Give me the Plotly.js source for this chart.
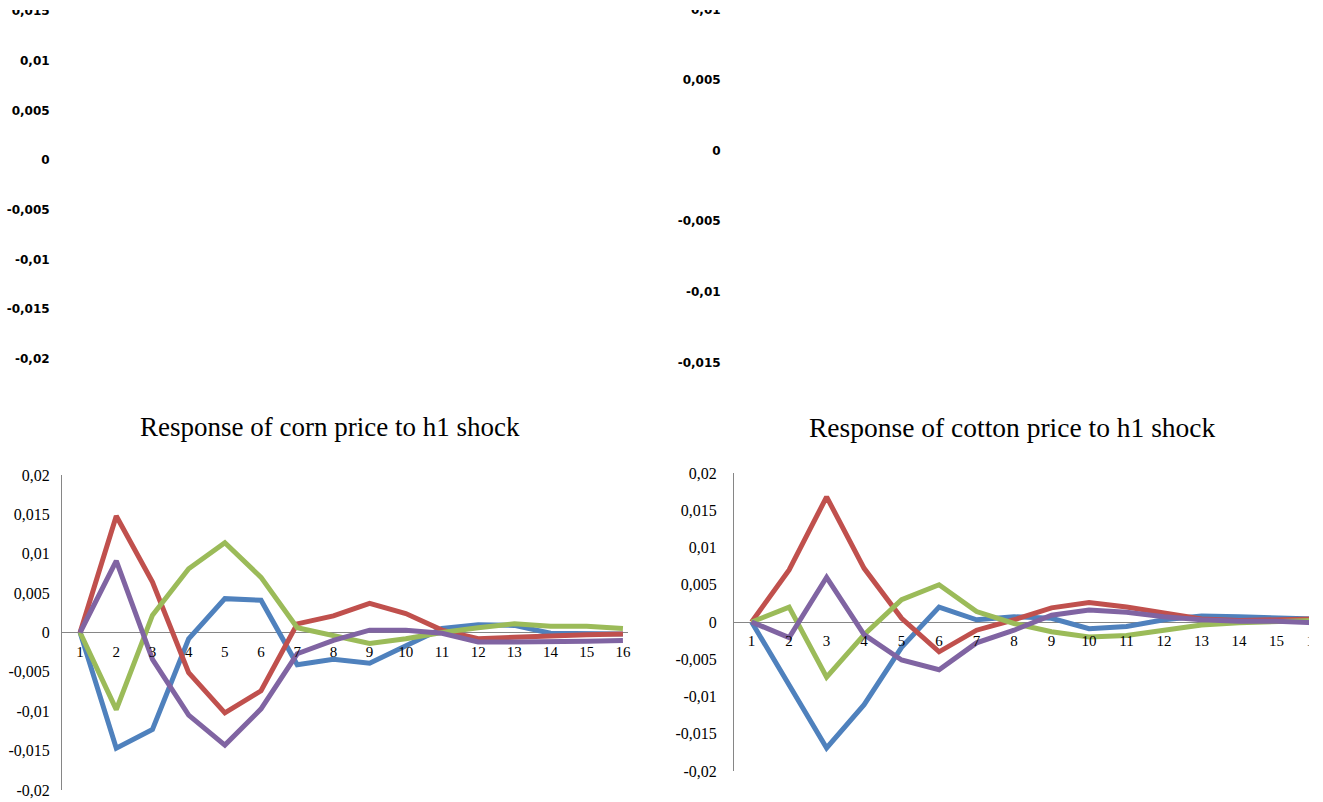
<!DOCTYPE html>
<html><head><meta charset="utf-8">
<script src="https://cdn.plot.ly/plotly-3.0.1.min.js"></script>
<style>body{margin:0;background:#fff}#chart{width:1323px;height:802px}</style>
</head><body><div id="chart"></div>
<script>
// Periods (categories)
const periods = [1,2,3,4,5,6,7,8,9,10,11,12,13,14,15,16];
const periodLabels = periods.map(String);

// Response of corn price to h1 shock
const cornBlue   = [0,-0.0147,-0.0123,-0.0008,0.0043,0.0041,-0.0041,-0.0034,-0.0039,-0.0017,0.0005,0.0010,0.0009,-0.0001,-0.0001,-0.0002];
const cornRed    = [0,0.0148,0.0064,-0.0051,-0.0102,-0.0074,0.0011,0.0021,0.0037,0.0024,0.0003,-0.0008,-0.0006,-0.0004,-0.0003,-0.0002];
const cornGreen  = [0,-0.0098,0.0022,0.0081,0.0114,0.0070,0.0006,-0.0004,-0.0014,-0.0008,0,0.0006,0.0011,0.0008,0.0008,0.0005];
const cornPurple = [0,0.0091,-0.0034,-0.0105,-0.0143,-0.0097,-0.0027,-0.0010,0.0003,0.0003,-0.0001,-0.0012,-0.0012,-0.0012,-0.0011,-0.0010];

// Response of cotton price to h1 shock
const cottonBlue   = [0,-0.0085,-0.0169,-0.0111,-0.0034,0.0020,0.0003,0.0007,0.0005,-0.0009,-0.0006,0.0003,0.0008,0.0007,0.0005,0.0004];
const cottonRed    = [0,0.0070,0.0168,0.0072,0.0005,-0.0040,-0.0011,0.0003,0.0019,0.0026,0.0020,0.0012,0.0004,0.0002,0.0003,0.0004];
const cottonGreen  = [0,0.0020,-0.0074,-0.0017,0.0030,0.0050,0.0014,-0.0002,-0.0013,-0.0020,-0.0018,-0.0011,-0.0004,-0.0001,0.0001,0.0002];
const cottonPurple = [0,-0.0021,0.0060,-0.0017,-0.0051,-0.0064,-0.0028,-0.0011,0.0009,0.0016,0.0013,0.0007,0.0003,0.0001,0.0001,-0.0001];

// Tick labels
const yTickVals = [0.02,0.015,0.01,0.005,0,-0.005,-0.01,-0.015,-0.02];
const yTickText = ['0,02','0,015','0,01','0,005','0','-0,005','-0,01','-0,015','-0,02'];
const topLeftTickVals = [0.015,0.01,0.005,0,-0.005,-0.01,-0.015,-0.02];
const topLeftTickText = ['0,015','0,01','0,005','0','-0,005','-0,01','-0,015','-0,02'];
const topRightTickVals = [0.01,0.005,0,-0.005,-0.01,-0.015];
const topRightTickText = ['0,01','0,005','0','-0,005','-0,01','-0,015'];

const titles = ['Response of corn price to h1 shock','Response of cotton price to h1 shock'];

const colors = ['#4F81BD','#C0504D','#9BBB59','#8064A2'];
const FONT = 'Liberation Serif, Times New Roman, serif';
const TOPFONT = 'DejaVu Sans, sans-serif';

function line(y, c, xa, ya){
  return {x: periods, y: y, type:'scatter', mode:'lines', xaxis:xa, yaxis:ya,
          line:{color:c, width:5}, hoverinfo:'skip', showlegend:false};
}

const data = [
  line(cornBlue, colors[0], 'x', 'y'),
  line(cornRed, colors[1], 'x', 'y'),
  line(cornGreen, colors[2], 'x', 'y'),
  line(cornPurple, colors[3], 'x', 'y'),
  line(cottonBlue, colors[0], 'x2', 'y2'),
  line(cottonRed, colors[1], 'x2', 'y2'),
  line(cottonGreen, colors[2], 'x2', 'y2'),
  line(cottonPurple, colors[3], 'x2', 'y2'),
  {x:[], y:[], xaxis:'x3', yaxis:'y3', type:'scatter', showlegend:false},
  {x:[], y:[], xaxis:'x4', yaxis:'y4', type:'scatter', showlegend:false}
];

const W = 1323, H = 802;
const px = v => v / W;
const py = v => 1 - v / H;

// top-left axis: 0 at y=160, 0.005 per 49.7 px; top-right: 0 at 150.5, 0.005 per 70.6 px
const tlZero = 160, tlStep = 49.7, tlTop = 0, tlBot = 362;
const trZero = 150.5, trStep = 70.6, trTop = 0, trBot = 372;

const xCommon = {
  tickmode:'array', tickvals: periods, ticktext: periodLabels,
  showgrid:false, zeroline:false, showline:false,
  ticks:'outside', ticklen:5, tickcolor:'rgba(0,0,0,0)',
  tickfont:{family:FONT, size:15, color:'#000'}, fixedrange:true
};
const yCommon = {
  tickmode:'array', tickvals: yTickVals, ticktext: yTickText,
  showgrid:false, zeroline:true, zerolinecolor:'#868686', zerolinewidth:1,
  showline:true, linecolor:'#868686', linewidth:1,
  ticks:'outside', tickcolor:'rgba(0,0,0,0)',
  tickfont:{family:FONT, size:16, color:'#000'}, range:[-0.02,0.02], fixedrange:true
};
const topY = {
  tickmode:'array', showgrid:false, zeroline:false, showline:false,
  ticks:'outside', ticklen:7, tickcolor:'rgba(0,0,0,0)',
  tickfont:{family:TOPFONT, size:12, color:'#000', weight:'bold'}, fixedrange:true
};

const layout = {
  width: W, height: H, autosize:false,
  margin:{l:0,r:0,t:0,b:0,pad:0},
  paper_bgcolor:'#fff', plot_bgcolor:'rgba(0,0,0,0)',
  showlegend:false,
  xaxis: Object.assign({}, xCommon, {domain:[px(62), px(628)], range:[0.5,16.14], anchor:'free', position: py(632.5)}),
  yaxis: Object.assign({}, yCommon, {domain:[py(790), py(475)], anchor:'x', ticklen:8}),
  xaxis2: Object.assign({}, xCommon, {domain:[px(734), 1], range:[0.53,16.24], anchor:'free', position: py(622)}),
  yaxis2: Object.assign({}, yCommon, {domain:[py(771), py(473)], anchor:'x2', ticklen:13}),
  xaxis3: {domain:[px(60), px(628)], visible:false, range:[0.5,16.5], anchor:'y3', fixedrange:true},
  yaxis3: Object.assign({}, topY, {domain:[py(tlBot), py(tlTop)],
           range:[(tlZero-tlBot)/tlStep*0.005, (tlZero-tlTop)/tlStep*0.005], anchor:'x3',
           tickvals: topLeftTickVals, ticktext: topLeftTickText}),
  xaxis4: {domain:[px(731), 1], visible:false, range:[0.5,16.5], anchor:'y4', fixedrange:true},
  yaxis4: Object.assign({}, topY, {domain:[py(trBot), py(trTop)],
           range:[(trZero-trBot)/trStep*0.005, (trZero-trTop)/trStep*0.005], anchor:'x4',
           tickvals: topRightTickVals, ticktext: topRightTickText}),
  shapes: [
    {type:'rect', xref:'paper', yref:'paper', x0:0, x1:1, y0:py(10), y1:1,
     fillcolor:'#fff', line:{width:0}, layer:'above'},
    {type:'rect', xref:'paper', yref:'paper', x0:px(1309), x1:1, y0:0, y1:py(450),
     fillcolor:'#fff', line:{width:0}, layer:'above'}
  ],
  annotations: [
    {text: titles[0], xref:'paper', yref:'paper', x: px(330), y: py(427), xanchor:'center', yanchor:'middle',
     showarrow:false, font:{family:FONT, size:27, color:'#000'}},
    {text: titles[1], xref:'paper', yref:'paper', x: px(1012), y: py(427), xanchor:'center', yanchor:'middle',
     showarrow:false, font:{family:FONT, size:27.5, color:'#000'}}
  ]
};

Plotly.newPlot('chart', data, layout, {staticPlot:true, displayModeBar:false});
</script>
</body></html>
